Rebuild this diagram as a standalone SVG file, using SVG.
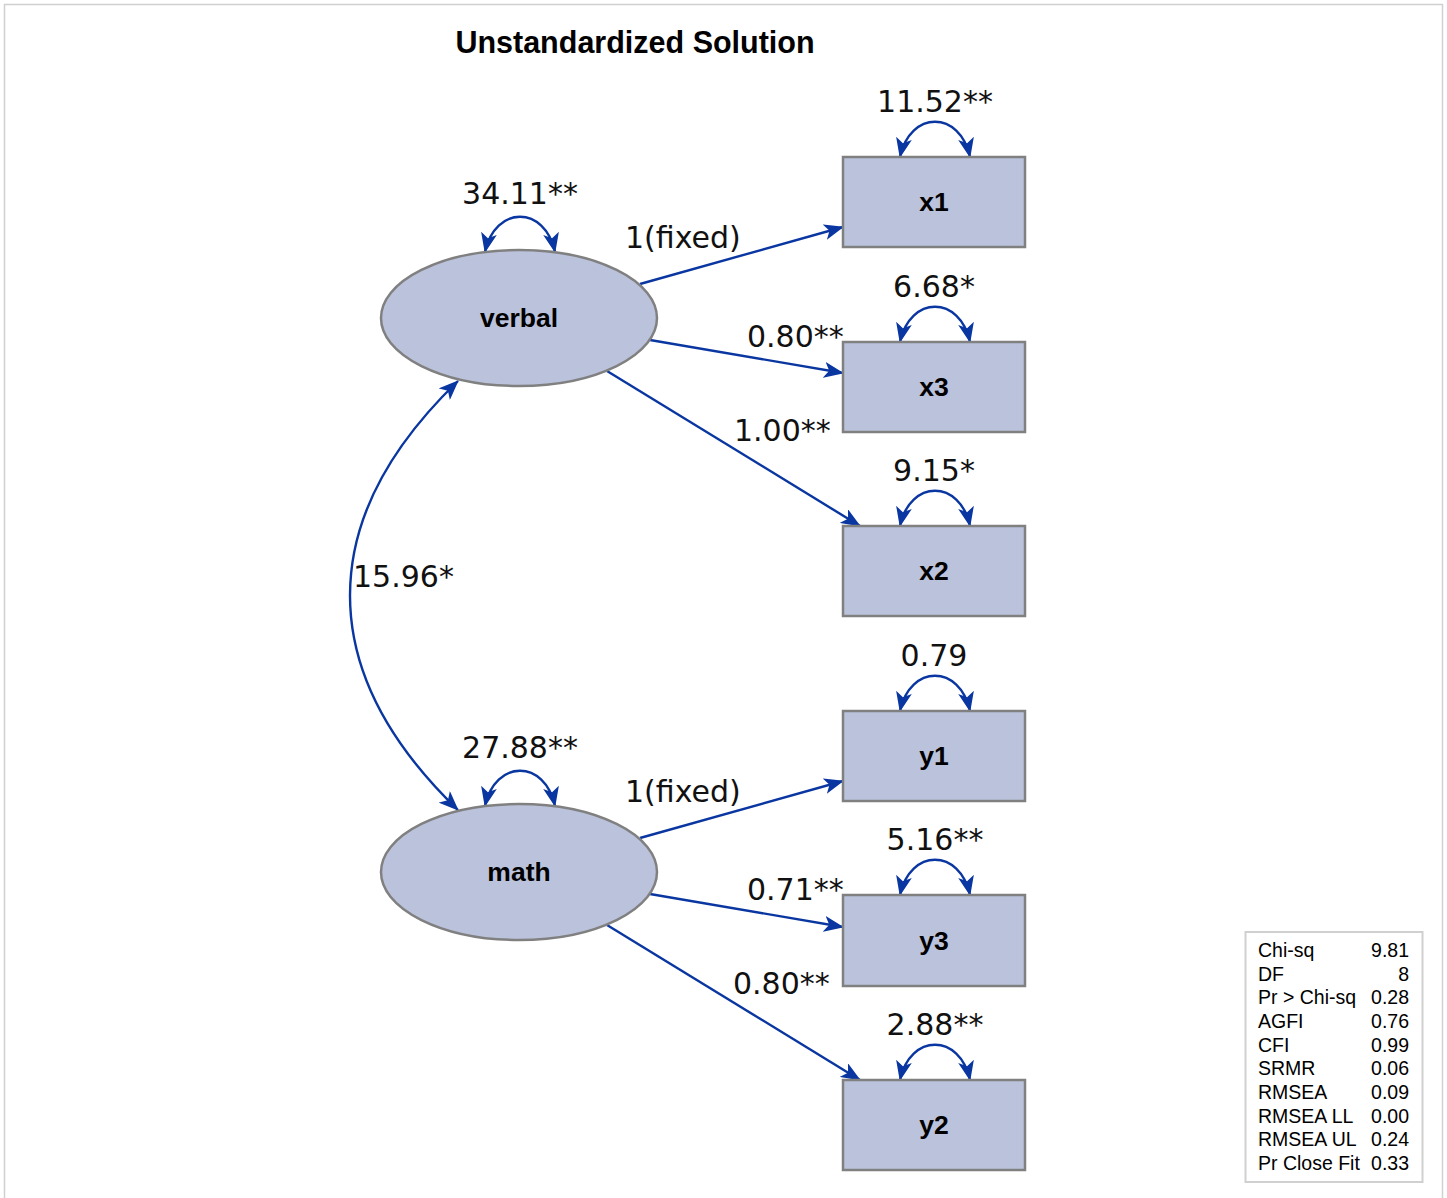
<svg xmlns="http://www.w3.org/2000/svg" width="1447" height="1198" viewBox="0 0 1447 1198">
<style>
.node{fill:#bbc3dc;stroke:#808080;stroke-width:2.5}
.nl{font-family:"Liberation Sans",Arial,sans-serif;font-weight:bold;font-size:26.5px;fill:#000;text-anchor:middle}
.lbl{font-family:"DejaVu Sans",sans-serif;font-size:30px;fill:#111}
.mid{text-anchor:middle}
.edge{fill:none;stroke:#0936a0;stroke-width:2.4}
.fit{font-family:"Liberation Sans",Arial,sans-serif;font-size:19.5px;fill:#000}
</style>
<defs>
<marker id="ah" viewBox="0 0 20 16" refX="19" refY="8" markerWidth="20" markerHeight="16" markerUnits="userSpaceOnUse" orient="auto-start-reverse">
<path d="M0,0 L20,8 L0,16 L5,8 z" fill="#0936a0"/>
</marker>
</defs>
<rect x="4.5" y="4.5" width="1438" height="1210" fill="#fff" stroke="#d0d0d0" stroke-width="1.5"/>
<text x="635" y="53" font-family="Liberation Sans,Arial,sans-serif" font-weight="bold" font-size="30.5" text-anchor="middle" fill="#000">Unstandardized Solution</text>

<g id="connectors">
<path class="edge" d="M640,284 L843,227" marker-end="url(#ah)"/>
<path class="edge" d="M650,340 L843,373" marker-end="url(#ah)"/>
<path class="edge" d="M607,371 L860,526" marker-end="url(#ah)"/>
<path class="edge" d="M640,838 L843,781" marker-end="url(#ah)"/>
<path class="edge" d="M650,894 L843,927" marker-end="url(#ah)"/>
<path class="edge" d="M607,925 L860,1080" marker-end="url(#ah)"/>
<path class="edge" d="M458,381 C314,520 314,671 458,810" marker-start="url(#ah)" marker-end="url(#ah)"/>
<path class="edge" d="M485,252 C495,205 545,205 555,252" marker-start="url(#ah)" marker-end="url(#ah)"/>
<path class="edge" d="M485,806 C495,759 545,759 555,806" marker-start="url(#ah)" marker-end="url(#ah)"/>
<path class="edge" d="M900,157 C910,110 960,110 970,157" marker-start="url(#ah)" marker-end="url(#ah)"/>
<path class="edge" d="M900,342 C910,295 960,295 970,342" marker-start="url(#ah)" marker-end="url(#ah)"/>
<path class="edge" d="M900,526 C910,479 960,479 970,526" marker-start="url(#ah)" marker-end="url(#ah)"/>
<path class="edge" d="M900,711 C910,664 960,664 970,711" marker-start="url(#ah)" marker-end="url(#ah)"/>
<path class="edge" d="M900,895 C910,848 960,848 970,895" marker-start="url(#ah)" marker-end="url(#ah)"/>
<path class="edge" d="M900,1080 C910,1033 960,1033 970,1080" marker-start="url(#ah)" marker-end="url(#ah)"/>
<text class="lbl" x="625" y="248">1(fixed)</text>
<text class="lbl" x="747" y="347">0.80**</text>
<text class="lbl" x="734" y="441">1.00**</text>
<text class="lbl" x="625" y="802">1(fixed)</text>
<text class="lbl" x="747" y="900">0.71**</text>
<text class="lbl" x="733" y="994">0.80**</text>
<text class="lbl" x="353" y="587">15.96*</text>
<text class="lbl mid" x="520" y="204">34.11**</text>
<text class="lbl mid" x="520" y="758">27.88**</text>
<text class="lbl mid" x="935" y="112">11.52**</text>
<text class="lbl mid" x="934" y="297">6.68*</text>
<text class="lbl mid" x="934" y="481">9.15*</text>
<text class="lbl mid" x="934" y="666">0.79</text>
<text class="lbl mid" x="935" y="850">5.16**</text>
<text class="lbl mid" x="935" y="1035">2.88**</text>
</g>

<g id="verbal"><ellipse class="node" cx="519" cy="318" rx="138" ry="68"/><text class="nl" x="519" y="327">verbal</text></g>
<g id="math"><ellipse class="node" cx="519" cy="872" rx="138" ry="68"/><text class="nl" x="519" y="881">math</text></g>
<g id="x1"><rect class="node" x="843" y="157" width="182" height="90"/><text class="nl" x="934" y="211">x1</text></g>
<g id="x3"><rect class="node" x="843" y="342" width="182" height="90"/><text class="nl" x="934" y="396">x3</text></g>
<g id="x2"><rect class="node" x="843" y="526" width="182" height="90"/><text class="nl" x="934" y="580">x2</text></g>
<g id="y1"><rect class="node" x="843" y="711" width="182" height="90"/><text class="nl" x="934" y="765">y1</text></g>
<g id="y3"><rect class="node" x="843" y="895" width="182" height="91"/><text class="nl" x="934" y="950">y3</text></g>
<g id="y2"><rect class="node" x="843" y="1080" width="182" height="90"/><text class="nl" x="934" y="1134">y2</text></g>

<g id="fit">
<rect x="1245.5" y="932" width="177" height="250" fill="#fff" stroke="#d0d0d0" stroke-width="2"/>
<g class="fit">
<text x="1258" y="957">Chi-sq</text><text x="1409" y="957" text-anchor="end">9.81</text>
<text x="1258" y="981">DF</text><text x="1409" y="981" text-anchor="end">8</text>
<text x="1258" y="1004">Pr &gt; Chi-sq</text><text x="1409" y="1004" text-anchor="end">0.28</text>
<text x="1258" y="1028">AGFI</text><text x="1409" y="1028" text-anchor="end">0.76</text>
<text x="1258" y="1052">CFI</text><text x="1409" y="1052" text-anchor="end">0.99</text>
<text x="1258" y="1075">SRMR</text><text x="1409" y="1075" text-anchor="end">0.06</text>
<text x="1258" y="1099">RMSEA</text><text x="1409" y="1099" text-anchor="end">0.09</text>
<text x="1258" y="1123">RMSEA LL</text><text x="1409" y="1123" text-anchor="end">0.00</text>
<text x="1258" y="1146">RMSEA UL</text><text x="1409" y="1146" text-anchor="end">0.24</text>
<text x="1258" y="1170">Pr Close Fit</text><text x="1409" y="1170" text-anchor="end">0.33</text>
</g>
</g>
</svg>
